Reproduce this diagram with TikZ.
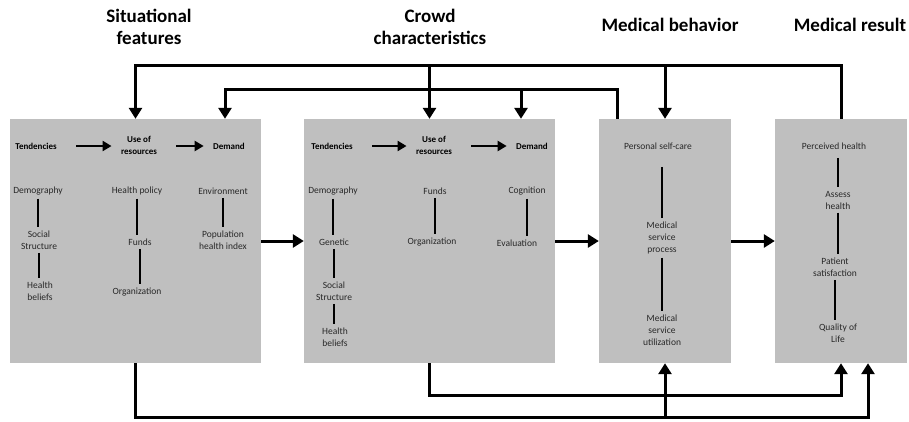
\documentclass[tikz,border=0pt]{standalone}
\usepackage{fontspec}
\setmainfont{Carlito}
\usetikzlibrary{arrows.meta}
\definecolor{panelgray}{RGB}{191,191,191}
\definecolor{inkgray}{RGB}{40,40,40}
\tikzset{
  panel/.style={fill=panelgray, inner sep=0pt, minimum height=244pt},
  item/.style={align=center, text=inkgray, font=\fontsize{9.5}{12}\selectfont},
  head/.style={item, text=black, font=\fontsize{9}{12}\selectfont\bfseries},
  title/.style={align=center, font=\fontsize{19}{22}\selectfont\bfseries},
  flow/.style={line width=3pt, -{Triangle[length=11pt,width=13pt]}},
  lead/.style={line width=2.6pt, -{Triangle[length=9pt,width=10pt]}, shorten <=16pt, shorten >=6pt},
  link/.style={line width=2.2pt}
}
\begin{document}
\begin{tikzpicture}[x=1pt,y=-1pt]
\useasboundingbox (0,0) rectangle (909,421);
% panels
\node[panel, minimum width=251pt] (box1) at (135.5,241) {};
\node[panel, minimum width=251pt] (box2) at (429.5,241) {};
\node[panel, minimum width=132pt] (box3) at (665,241) {};
\node[panel, minimum width=132pt] (box4) at (841,241) {};
% titles
\node[title] (sit) at (149,27) {Situational\\features};
\node[title] (crowd) at (430,27) {Crowd\\characteristics};
\node[title] (behav) at (670,25) {Medical behavior};
\node[title] (result) at (850,25) {Medical result};
% situational features
\node[head] (tend1) at (36,146) {Tendencies};
\node[head] (use1) at (139,145) {Use of\\resources};
\node[head] (dem1) at (229,146) {Demand};
\node[item] (demo1) at (38,191) {Demography};
\node[item] (soc1) at (39,240) {Social\\Structure};
\node[item] (belief1) at (40,291) {Health\\beliefs};
\node[item] (policy1) at (137,191) {Health policy};
\node[item] (funds1) at (140,242) {Funds};
\node[item] (org1) at (137,292) {Organization};
\node[item] (env1) at (223,191) {Environment};
\node[item] (index1) at (223,240) {Population\\health index};
\draw[lead] (tend1) -- (use1.west |- tend1);
\draw[lead] (use1.east |- dem1) -- (dem1);
\draw[link] (demo1.south) -- (demo1.south |- soc1.north);
\draw[link] (soc1.south) -- (soc1.south |- belief1.north);
\draw[link] (policy1.south) -- (policy1.south |- funds1.north);
\draw[link] (funds1.south) -- (funds1.south |- org1.north);
\draw[link] (env1.south) -- (env1.south |- index1.north);
% crowd characteristics
\node[head] (tend2) at (332,146) {Tendencies};
\node[head] (use2) at (434,145) {Use of\\resources};
\node[head] (dem2) at (532,146) {Demand};
\node[item] (demo2) at (333,191) {Demography};
\node[item] (gen2) at (334,242) {Genetic};
\node[item] (soc2) at (334,291) {Social\\Structure};
\node[item] (belief2) at (335,337) {Health\\beliefs};
\node[item] (funds2) at (435,191) {Funds};
\node[item] (org2) at (432,242) {Organization};
\node[item] (cog2) at (527,191) {Cognition};
\node[item] (eval2) at (517,243) {Evaluation};
\draw[lead] (tend2) -- (use2.west |- tend2);
\draw[lead] (use2.east |- dem2) -- (dem2);
\draw[link] (demo2.south) -- (demo2.south |- gen2.north);
\draw[link] (gen2.south) -- (gen2.south |- soc2.north);
\draw[link] (soc2.south) -- (soc2.south |- belief2.north);
\draw[link] (funds2.south) -- (funds2.south |- org2.north);
\draw[link] (cog2.south) -- (cog2.south |- eval2.north);
% medical behavior
\node[item] (self3) at (658,146) {Personal self-care};
\node[item] (proc3) at (662,238) {Medical\\service\\process};
\node[item] (util3) at (662,330) {Medical\\service\\utilization};
\draw[link, shorten <=14pt] (self3.south -| proc3) -- (proc3.north);
\draw[link] (proc3.south) -- (util3.north);
% medical result
\node[item] (perc4) at (834,146) {Perceived health};
\node[item] (assess4) at (838,200) {Assess\\health};
\node[item] (satis4) at (835,267) {Patient\\satisfaction};
\node[item] (life4) at (838,333) {Quality of\\Life};
\draw[link, shorten <=5pt] (perc4.south -| assess4) -- (assess4.north);
\draw[link] (assess4.south) -- (assess4.south |- satis4.north);
\draw[link] (satis4.south) -- (satis4.south |- life4.north);
% between panels
\draw[flow] (box1) -- (box2);
\draw[flow] (box2) -- (box3);
\draw[flow] (box3) -- (box4);
% feedback above
\coordinate (topL) at (0,65);
\coordinate (midL) at (0,89);
\draw[flow] (box4.north) -- (box4.north |- topL) -| (box1.north);
\draw[flow] (box2.north |- topL) -- (box2.north);
\draw[flow] (box3.north |- topL) -- (box3.north);
\draw[flow] ([xshift=-48pt]box3.north) -- ([xshift=-48pt]box3.north |- midL) -| ([xshift=89.5pt]box1.north);
\draw[flow] ([xshift=91.5pt]box2.north |- midL) -- ([xshift=91.5pt]box2.north);
% feedback below
\coordinate (lowL) at (0,395);
\coordinate (botL) at (0,417);
\draw[flow] (box1.south) -- (box1.south |- botL) -| ([xshift=27pt]box4.south);
\draw[flow] (box3.south |- botL) -- (box3.south);
\draw[flow] (box2.south) -- (box2.south |- lowL) -| (box4.south);
\end{tikzpicture}
\end{document}
